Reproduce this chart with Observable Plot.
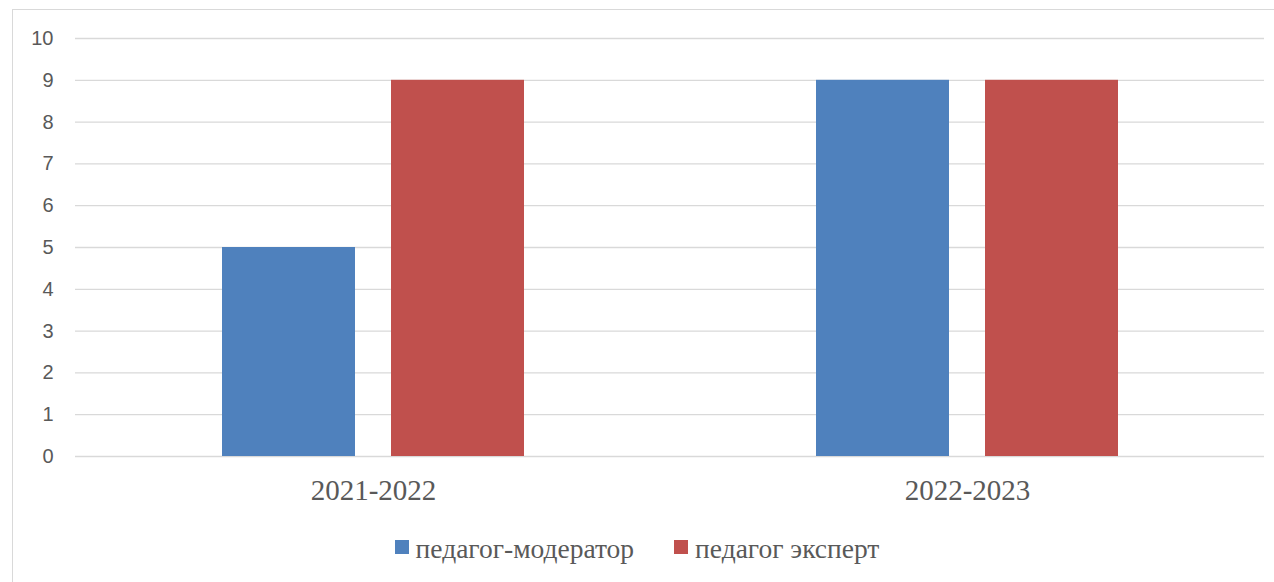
<!DOCTYPE html>
<html>
<head>
<meta charset="utf-8">
<script src="https://cdn.jsdelivr.net/npm/d3@7"></script>
<script src="https://cdn.jsdelivr.net/npm/@observablehq/plot@0.6"></script>
<style>
  html, body { margin: 0; padding: 0; background: #fff; }
  #wrap { position: relative; width: 1274px; height: 582px; overflow: hidden; }
  #frame { position: absolute; left: 12px; top: 9px; width: 1280px; height: 600px; border: 1px solid #d9d9d9; box-sizing: border-box; }
  #chart { position: absolute; left: 0; top: 0; }
  #legend { position: absolute; left: 0; top: 535px; width: 1274px; display: flex; justify-content: center; font-family: "Liberation Serif", "Times New Roman", "DejaVu Serif", serif; font-size: 27.5px; line-height: 1; color: #595959; }
  .item { display: flex; align-items: center; margin: 0 20px; }
  .sw { width: 14px; height: 14px; margin-right: 7px; display: inline-block; position: relative; top: -2px; }
  .yax text { font-family: "Liberation Sans", Arial, sans-serif !important; font-size: 20px !important; }
  .xax text { font-family: "Liberation Serif", "Times New Roman", serif !important; font-size: 29px !important; }
</style>
</head>
<body>
<div id="wrap">
  <div id="frame"></div>
  <div id="chart"></div>
  <div id="legend"></div>
</div>
<script>
const years = ["2021-2022", "2022-2023"];
const seriesNames = ["педагог-модератор", "педагог эксперт"];
const moderatorValues = [5, 9];
const expertValues = [9, 9];
const colors = ["#4F81BD", "#C0504D"];
const yTicks = [0, 1, 2, 3, 4, 5, 6, 7, 8, 9, 10];

const modData = years.map((y, i) => ({year: y, value: moderatorValues[i]}));
const expData = years.map((y, i) => ({year: y, value: expertValues[i]}));

const chart = Plot.plot({
  width: 1274,
  height: 520,
  marginLeft: 75,
  marginRight: 10,
  marginTop: 38,
  marginBottom: 64,
  style: {background: "transparent", color: "#595959"},
  x: {type: "band", domain: years, paddingInner: 0.492, paddingOuter: 0.246, align: 0.5},
  y: {domain: [0, 10]},
  marks: [
    Plot.ruleY(yTicks, {stroke: "#d9d9d9", strokeWidth: 1.3}),
    Plot.barY(modData, {x: "year", y: "value", fill: colors[0], insetRight: 169, insetLeft: 0}),
    Plot.barY(expData, {x: "year", y: "value", fill: colors[1], insetLeft: 169, insetRight: 0}),
    Plot.axisY(yTicks, {tickSize: 0, tickPadding: 22, label: null, fill: "#595959"}),
    Plot.axisX({tickSize: 0, tickPadding: 23, label: null, fill: "#595959"})
  ]
});
chart.querySelectorAll('[aria-label="y-axis tick label"]').forEach(g => g.classList.add("yax"));
chart.querySelectorAll('[aria-label="x-axis tick label"]').forEach(g => g.classList.add("xax"));
document.getElementById("chart").appendChild(chart);

const legend = document.getElementById("legend");
seriesNames.forEach((name, i) => {
  const item = document.createElement("div");
  item.className = "item";
  const sw = document.createElement("span");
  sw.className = "sw";
  sw.style.background = colors[i];
  const label = document.createElement("span");
  label.textContent = name;
  item.appendChild(sw);
  item.appendChild(label);
  legend.appendChild(item);
});
</script>
</body>
</html>
